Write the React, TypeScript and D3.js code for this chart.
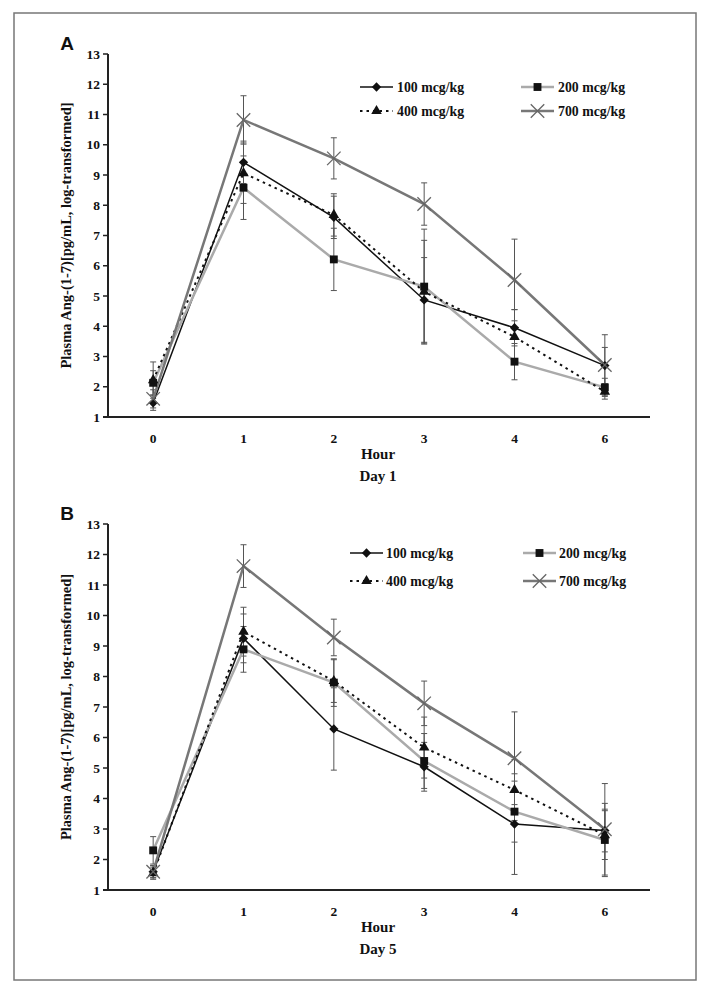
import React from 'react';
import * as d3 from 'd3';

const hours = ['0', '1', '2', '3', '4', '6'];
const yTicks = d3.range(1, 14);
const seriesNames = ['100 mcg/kg', '200 mcg/kg', '400 mcg/kg', '700 mcg/kg'];

// Day 1 means and error half-widths
const day1_100 = [1.47, 9.42, 7.6, 4.87, 3.95, 2.7];
const day1_100_err = [0.25, 0.7, 0.7, 1.4, 0.6, 0.6];
const day1_200 = [2.13, 8.58, 6.21, 5.31, 2.83, 1.98];
const day1_200_err = [0.4, 1.05, 1.03, 1.9, 0.6, 0.3];
const day1_400 = [2.22, 9.06, 7.68, 5.14, 3.65, 1.84];
const day1_400_err = [0.6, 1.0, 0.7, 1.7, 0.9, 0.25];
const day1_700 = [1.6, 10.82, 9.55, 8.04, 5.53, 2.72];
const day1_700_err = [0.3, 0.8, 0.68, 0.7, 1.35, 1.0];

// Day 5
const day5_100 = [1.6, 9.25, 6.28, 5.04, 3.16, 2.95];
const day5_100_err = [0.2, 0.8, 1.35, 0.8, 1.65, 0.7];
const day5_200 = [2.3, 8.89, 7.8, 5.23, 3.57, 2.64];
const day5_200_err = [0.45, 0.75, 0.78, 0.9, 1.0, 1.2];
const day5_400 = [1.55, 9.47, 7.85, 5.67, 4.28, 2.8];
const day5_400_err = [0.2, 0.8, 0.7, 1.0, 1.0, 0.8];
const day5_700 = [1.6, 11.62, 9.28, 7.12, 5.32, 2.99];
const day5_700_err = [0.2, 0.7, 0.6, 0.73, 1.52, 1.5];

type Style = { stroke: string; width: number; dash?: string; marker: 'diamond' | 'square' | 'triangle' | 'x' };
const styles: Style[] = [
  { stroke: '#111', width: 1.5, marker: 'diamond' },
  { stroke: '#aaa', width: 2.5, marker: 'square' },
  { stroke: '#111', width: 2, dash: '2.5,4', marker: 'triangle' },
  { stroke: '#777', width: 2.5, marker: 'x' },
];

const serif = '"Liberation Serif", "Times New Roman", serif';
const sans = '"Liberation Sans", Arial, sans-serif';

function Marker({ kind, cx, cy }: { kind: Style['marker']; cx: number; cy: number }) {
  if (kind === 'x') {
    const p = d3.symbol(d3.symbolX, 120)() as string;
    return <path d={p} transform={`translate(${cx},${cy})`} fill="none" stroke="#666" strokeWidth={1.3} />;
  }
  const t = kind === 'diamond' ? d3.symbolDiamond2 : kind === 'square' ? d3.symbolSquare : d3.symbolTriangle;
  const size = kind === 'diamond' ? 55 : kind === 'square' ? 62 : 48;
  const p = d3.symbol(t, size)() as string;
  return <path d={p} transform={`translate(${cx},${cy})`} fill="#111" />;
}

type PanelProps = {
  label: string;
  day: string;
  top: number;
  bottom: number;
  values: number[][];
  errs: number[][];
  legend: { x1: number; x2: number; rows: number[]; textDx: number };
};

function Panel({ label, day, top, bottom, values, errs, legend }: PanelProps) {
  const x = d3.scaleBand<string>().domain(hours).range([108, 650]);
  const cx = (h: string) => (x(h) as number) + x.bandwidth() / 2;
  const y = d3.scaleLinear().domain([1, 13]).range([bottom, top]);
  const line = d3
    .line<number>()
    .x((_, i) => cx(hours[i]))
    .y((d) => y(d));

  return (
    <g>
      <text x={67} y={top - 4} textAnchor="middle" fontFamily={sans} fontWeight="bold" fontSize={19} fill="#111">
        {label}
      </text>
      {/* y axis */}
      <line x1={108} x2={108} y1={top} y2={bottom} stroke="#222" strokeWidth={2} />
      {yTicks.map((t) => (
        <g key={t}>
          <line x1={103} x2={108} y1={y(t)} y2={y(t)} stroke="#222" strokeWidth={1.5} />
          <text x={100} y={y(t)} dy="0.35em" textAnchor="end" fontFamily={serif} fontWeight="bold" fontSize={13.5} fill="#111">
            {t}
          </text>
        </g>
      ))}
      {/* x axis */}
      <line x1={103} x2={650} y1={bottom} y2={bottom} stroke="#222" strokeWidth={2.2} />
      {hours.map((h) => (
        <text key={h} x={cx(h)} y={bottom + 21} dy="0.35em" textAnchor="middle" fontFamily={serif} fontWeight="bold" fontSize={13.5} fill="#111">
          {h}
        </text>
      ))}
      <text x={378} y={bottom + 37} dy="0.35em" textAnchor="middle" fontFamily={serif} fontWeight="bold" fontSize={15} fill="#111">
        Hour
      </text>
      <text x={378} y={bottom + 59} dy="0.35em" textAnchor="middle" fontFamily={serif} fontWeight="bold" fontSize={15} fill="#111">
        {day}
      </text>
      <text
        transform={`translate(66,${(top + bottom) / 2}) rotate(-90)`}
        textAnchor="middle"
        dy="0.35em"
        fontFamily={serif}
        fontWeight="bold"
        fontSize={14.5}
        fill="#111"
      >
        Plasma Ang-(1-7)[pg/mL, log-transformed]
      </text>
      {/* error bars */}
      {values.map((vals, si) =>
        vals.map((v, i) => {
          const e = errs[si][i];
          const xx = cx(hours[i]);
          return (
            <g key={`e${si}-${i}`} stroke="#555" strokeWidth={1}>
              <line x1={xx} x2={xx} y1={y(v - e)} y2={y(v + e)} />
              <line x1={xx - 3} x2={xx + 3} y1={y(v - e)} y2={y(v - e)} />
              <line x1={xx - 3} x2={xx + 3} y1={y(v + e)} y2={y(v + e)} />
            </g>
          );
        })
      )}
      {/* lines */}
      {values.map((vals, si) => (
        <path
          key={`l${si}`}
          d={line(vals) as string}
          fill="none"
          stroke={styles[si].stroke}
          strokeWidth={styles[si].width}
          strokeDasharray={styles[si].dash}
        />
      ))}
      {/* markers */}
      {values.map((vals, si) =>
        vals.map((v, i) => <Marker key={`m${si}-${i}`} kind={styles[si].marker} cx={cx(hours[i])} cy={y(v)} />)
      )}
      {/* legend */}
      {seriesNames.map((name, si) => {
        const col = si % 2;
        const row = Math.floor(si / 2);
        const lx = col === 0 ? legend.x1 : legend.x2;
        const ly = legend.rows[row];
        const st = styles[si];
        return (
          <g key={name}>
            <line x1={lx} x2={lx + 33} y1={ly} y2={ly} stroke={st.stroke} strokeWidth={st.width} strokeDasharray={st.dash} />
            <Marker kind={st.marker} cx={lx + 16.5} cy={ly} />
            <text x={lx + 33 + legend.textDx} y={ly} dy="0.35em" fontFamily={serif} fontWeight="bold" fontSize={13.8} fill="#111">
              {name}
            </text>
          </g>
        );
      })}
    </g>
  );
}

export default function App() {
  return (
    <svg width={708} height={991} style={{ position: 'absolute', left: 0, top: 0, background: '#fff' }}>
      <rect x={0} y={0} width={708} height={991} fill="#fff" />
      <rect x={14} y={13} width={682} height={967} fill="none" stroke="#777" strokeWidth={1.5} />
      <Panel
        label="A"
        day="Day 1"
        top={54}
        bottom={417}
        values={[day1_100, day1_200, day1_400, day1_700]}
        errs={[day1_100_err, day1_200_err, day1_400_err, day1_700_err]}
        legend={{ x1: 360, x2: 521, rows: [87, 111], textDx: 4 }}
      />
      <Panel
        label="B"
        day="Day 5"
        top={524}
        bottom={890}
        values={[day5_100, day5_200, day5_400, day5_700]}
        errs={[day5_100_err, day5_200_err, day5_400_err, day5_700_err]}
        legend={{ x1: 350, x2: 523, rows: [553, 581], textDx: 3 }}
      />
    </svg>
  );
}
